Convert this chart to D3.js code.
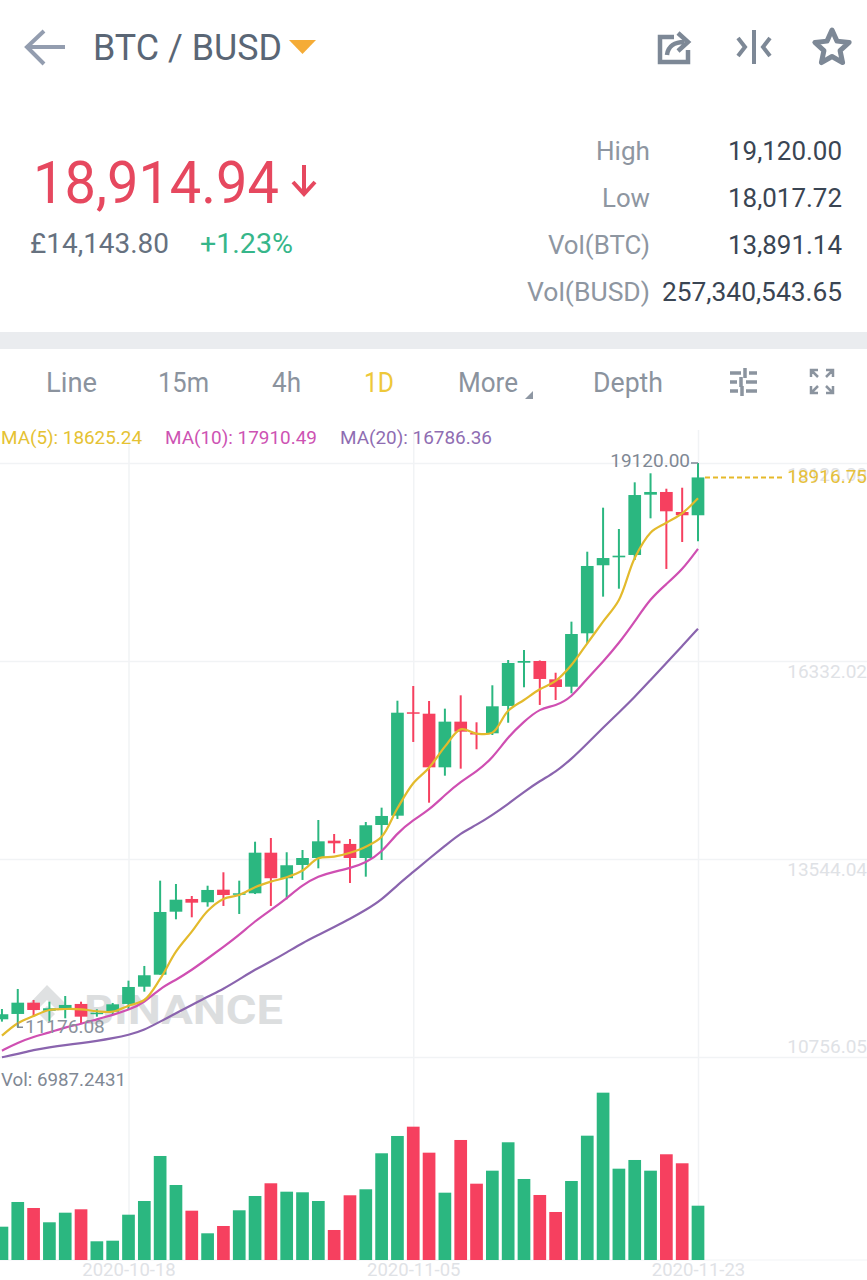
<!DOCTYPE html>
<html>
<head>
<meta charset="utf-8">
<style>
html,body{margin:0;padding:0;background:#fff;overflow:hidden}
svg{display:block}
text{font-family:Roboto,"Open Sans",sans-serif}
</style>
<script src="https://cdn.jsdelivr.net/npm/d3@7/dist/d3.min.js"></script>
</head>
<body>
<svg id="c" width="867" height="1280"></svg>
<script>
const startDay = "2020-10-10", endDay = "2020-11-24";
const opens  = [11287,11362,11521,11408,11442,11503,11362,11394,11503,11746,11915,12802,12981,12935,13112,13042,13061,13633,13273,13460,13558,13802,13756,13558,14023,14154,15610,15590,14835,15478,15318,15314,15699,16308,16332,16074,15970,16722,17680,17792,17825,18674,18712,18430,18384];
const highs  = [11432,11714,11559,11535,11615,11535,11428,11517,11831,12038,13239,13192,13023,13168,13357,13239,13788,13840,13639,13671,14093,13896,13826,14065,14267,15773,15980,15769,15661,15849,15469,15990,16346,16487,16340,16167,16886,17871,18491,18191,18848,18975,18758,18772,19120];
const lows   = [11254,11176.08,11324,11254,11301,11231,11324,11348,11418,11676,11915,12695,12723,12873,12883,12770,13050,12883,12977,13249,13413,13625,13206,13295,13530,14108,15192,14337,14717,14816,15089,15290,15463,15962,15713,15783,15877,16581,17238,17350,17754,18341,17628,18008,18017.72];
const closes = [11358,11521,11418,11442,11489,11324,11380,11498,11742,11907,12798,12971,12929,13108,13037,13061,13633,13273,13456,13558,13793,13765,13558,14019,14150,15604,15590,14835,15478,15337,15304,15694,16304,16332,16079,15966,16712,17670,17782,17815,18669,18712,18440,18384,18916.75];
const volumes = [4286,7465,6692,4852,6088,6525,2407,2484,5830,7593,13385,9652,6345,3436,4376,6396,8237,9871,8790,8713,7593,3861,8327,9099,13732,15959,17156,13810,8662,15444,9820,11493,15148,10425,8366,6178,10167,15997,21532,11750,12870,11493,13604,12445,6987.2431];
const ma5  = [11056,11231,11334,11418,11432,11428,11400,11394,11479,11559,11855,12239,12521,12812,12981,13037,13146,13225,13287,13382,13554,13577,13633,13718,13858,14258,14610,14830,15126,15370,15309,15323,15632,15783,15934,16051,16276,16581,16886,17191,17782,18139,18279,18412,18625.24];
const ma10 = [10845,10958,11042,11099,11175,11221,11287,11348,11418,11521,11724,11841,11981,12143,12305,12474,12671,12826,12991,13178,13305,13366,13413,13492,13633,13915,14093,14234,14445,14633,14774,14962,15266,15478,15666,15699,15818,16089,16322,16581,16886,17215,17416,17613,17910.49];
const ma20 = [10752,10799,10855,10893,10925,10949,10982,11020,11066,11137,11254,11372,11489,11606,11714,11848,11988,12101,12228,12362,12474,12587,12700,12826,12967,13178,13361,13549,13727,13910,14023,14164,14319,14488,14643,14769,14952,15171,15392,15607,15825,16065,16304,16543,16786.36];
const priceTicks = [19120.00,16332.02,13544.04,10756.05];
const dateTicks = ["2020-10-18","2020-11-05","2020-11-23"];
const tabs = ["Line","15m","4h","1D","More","Depth"];
const statLabels = ["High","Low","Vol(BTC)","Vol(BUSD)"];
const statValues = ["19,120.00","18,017.72","13,891.14","257,340,543.65"];

const GREEN="#2bb780", RED="#f6405f", GOLD="#e3ba2c", MAG="#cf4fb2", PUR="#8a64ae";
const GREY="#7f8894", DARK="#5a6675", GRID="#f1f3f5", FAINT="#dfe2e6";
const svg=d3.select("#c");
const parse=d3.utcParse("%Y-%m-%d");
const days=d3.utcDay.range(parse(startDay),parse(endDay));

const x=d3.scaleUtc().domain([parse("2020-10-18"),parse("2020-11-23")]).range([128.5,698]);
const y=d3.scaleLinear().domain([10756.05,19120]).range([1057,463]);
const yv=d3.scaleLinear().domain([0,6987.2431]).range([1260,1205.7]);

function T(px,py,s,o={}){
  const t=svg.append("text").attr("x",px).attr("y",py).text(s)
    .attr("font-size",o.size||20).attr("fill",o.fill||GREY)
    .attr("font-weight",o.weight||400).attr("text-anchor",o.anchor||"start");
  if(o.w){t.attr("textLength",o.w).attr("lengthAdjust","spacingAndGlyphs");}
  return t;
}

/* header */
svg.append("path").attr("d","M65 47H28M44 31L27 47L44 64").attr("fill","none").attr("stroke","#939daf").attr("stroke-width",4);
T(93,60,"BTC / BUSD",{size:36,fill:DARK,weight:400,w:189});
svg.append("path").attr("d","M289 40H316L302.5 54Z").attr("fill","#f5ac37");
const ic="#7d8896";
svg.append("path").attr("d","M674 37H660V62H688V50M667 55C668 46 675 42 684 42M678 33L688 42L678 51").attr("fill","none").attr("stroke",ic).attr("stroke-width",4.5);
svg.append("path").attr("d","M754 30V64M738 38L745 47L738 56M770 38L763 47L770 56").attr("fill","none").attr("stroke",ic).attr("stroke-width",4);
const star=d3.range(10).map(i=>{const r=i%2?8.5:18,a=-Math.PI/2+i*Math.PI/5;return [832+r*Math.cos(a),48+r*Math.sin(a)];});
svg.append("path").attr("d",d3.line()(star)+"Z").attr("fill","none").attr("stroke",ic).attr("stroke-width",5).attr("stroke-linejoin","round");

/* price block */
T(33,203,"18,914.94",{size:60,fill:"#e6485f",weight:400,w:246});
svg.append("path").attr("d","M304 165V193M293 182L304 194L315 182").attr("fill","none").attr("stroke","#e6485f").attr("stroke-width",4);
T(30,253,"£14,143.80",{size:28,fill:"#66717f",weight:400,w:139});
T(200,253,"+1.23%",{size:28,fill:"#36b68a",weight:400,w:93});
const statY=[160,207,254,301];
const statLW=[54,48,102,123], statVW=[114,114,114,180];
statLabels.forEach((s,i)=>T(650-statLW[i],statY[i],s,{size:26,fill:"#8e96a1",weight:400,w:statLW[i]}));
statValues.forEach((s,i)=>T(842-statVW[i],statY[i],s,{size:26,fill:"#3a4553",weight:400,w:statVW[i]}));

/* band */
svg.append("rect").attr("x",0).attr("y",332).attr("width",867).attr("height",17).attr("fill","#eaecef");

/* tabs */
const tabX=[46,158,272,364,458,593], tabW=[51,51,29,30,60,70];
tabs.forEach((s,i)=>T(tabX[i],392,s,{size:27,fill:s==="1D"?"#eec83a":"#8b939e",weight:400,w:tabW[i]}));
svg.append("path").attr("d","M533 391V399H525Z").attr("fill","#8e97a3");
svg.append("path").attr("d","M730 373H741M749 373H757M730 382H737M746 382H757M730 391H738M746 391H757M745 368V378M741 377V387M742 386V396").attr("fill","none").attr("stroke","#8b949f").attr("stroke-width",3.5);
svg.append("path").attr("d","M811 377V370H818M833 377V370H826M811 386V393H818M833 386V393H826M811 370L818 377M833 370L826 377M811 393L818 386M833 393L826 386").attr("fill","none").attr("stroke","#8b949f").attr("stroke-width",2.5);

/* grid via axes */
const gx=svg.append("g").attr("transform","translate(0,1260)")
  .call(d3.axisBottom(x).tickValues(dateTicks.map(parse)).tickFormat(d3.utcFormat("%Y-%m-%d")).tickSize(-830).tickPadding(3));
gx.select(".domain").attr("stroke",GRID).attr("d","M0 0H867");
gx.selectAll(".tick line").attr("stroke",GRID).attr("stroke-width",1.5);
gx.selectAll(".tick text").attr("fill",FAINT).attr("font-size",18.5).attr("font-family","Roboto,sans-serif");

const gy=svg.append("g").attr("transform","translate(867,0)")
  .call(d3.axisLeft(y).tickValues(priceTicks).tickFormat(d3.format(".2f")).tickSize(867).tickPadding(-867));
gy.select(".domain").remove();
gy.selectAll(".tick line").attr("stroke",GRID).attr("stroke-width",1.5);
gy.selectAll(".tick text").attr("fill",FAINT).attr("font-size",19).attr("font-family","Roboto,sans-serif")
  .attr("x",0).attr("text-anchor","end")
  .attr("dy",(d,i)=>i===3?"-5":"17");

/* watermark */
svg.append("path").attr("d","M47 985L66 1004L58 1011L47 1000L36 1011L29 1004Z M47 1006L55 1014L47 1022L39 1014Z").attr("fill","#dfe1e2");
T(84,1024,"BINANCE",{size:40,fill:"#dcdedf",weight:700,w:199});

/* volume */
const bw=12.7;
svg.append("g").selectAll("rect").data(days).join("rect")
  .attr("x",d=>x(d)-bw/2).attr("width",bw)
  .attr("y",(d,i)=>yv(volumes[i])).attr("height",(d,i)=>yv(0)-yv(volumes[i]))
  .attr("fill",(d,i)=>closes[i]>=opens[i]?GREEN:RED);

/* candles */
const cg=svg.append("g").selectAll("g").data(days).join("g")
  .attr("fill",(d,i)=>closes[i]>=opens[i]?GREEN:RED)
  .attr("stroke",(d,i)=>closes[i]>=opens[i]?GREEN:RED);
cg.append("line").attr("x1",d=>x(d)).attr("x2",d=>x(d))
  .attr("y1",(d,i)=>y(highs[i])).attr("y2",(d,i)=>y(lows[i])).attr("stroke-width",2);
cg.append("rect").attr("stroke","none").attr("x",d=>x(d)-bw/2).attr("width",bw)
  .attr("y",(d,i)=>y(Math.max(opens[i],closes[i])))
  .attr("height",(d,i)=>Math.max(1.5,Math.abs(y(opens[i])-y(closes[i]))));

/* moving averages */
const ln=(arr,c)=>d3.line().x(d=>x(d)).y((d,i)=>y(arr[i])).curve(c)(days);
[[ma20,PUR,d3.curveBasis],[ma10,MAG,d3.curveBasis],[ma5,GOLD,d3.curveCatmullRom.alpha(0.5)]].forEach(([a,c,k])=>{
  svg.append("path").attr("d",ln(a,k)).attr("fill","none").attr("stroke",c).attr("stroke-width",2.2).attr("stroke-linejoin","round");
});

/* legends */
T(1,444,"MA(5): 18625.24",{size:18.5,fill:"#e5c233",w:141});
T(165,444,"MA(10): 17910.49",{size:18.5,fill:"#cd53b3",w:152});
T(340,444,"MA(20): 16786.36",{size:18.5,fill:"#8f6db2",w:152});
T(1,1086,"Vol: 6987.2431",{size:18.5,fill:"#7f8894",w:125});

/* high/low marks */
T(690,467,"19120.00",{size:19,fill:"#7f8894",anchor:"end"});
svg.append("line").attr("x1",691).attr("x2",x(days[44])).attr("y1",y(19120)).attr("y2",y(19120)).attr("stroke","#7f8894").attr("stroke-width",1.5);
T(25,1033,"11176.08",{size:19,fill:"#8a929c"});
svg.append("path").attr("d",`M${x(days[1])} ${y(11176.08)-5}V${y(11176.08)}H23`).attr("fill","none").attr("stroke","#7f8894").attr("stroke-width",1.5);

/* last price */
svg.append("line").attr("x1",705).attr("x2",784).attr("y1",y(18916.75)).attr("y2",y(18916.75)).attr("stroke","#e6b92a").attr("stroke-width",2).attr("stroke-dasharray","5 3");
T(867,483,"18916.75",{size:19,fill:"#e6c03a",anchor:"end"});
</script>
</body>
</html>
